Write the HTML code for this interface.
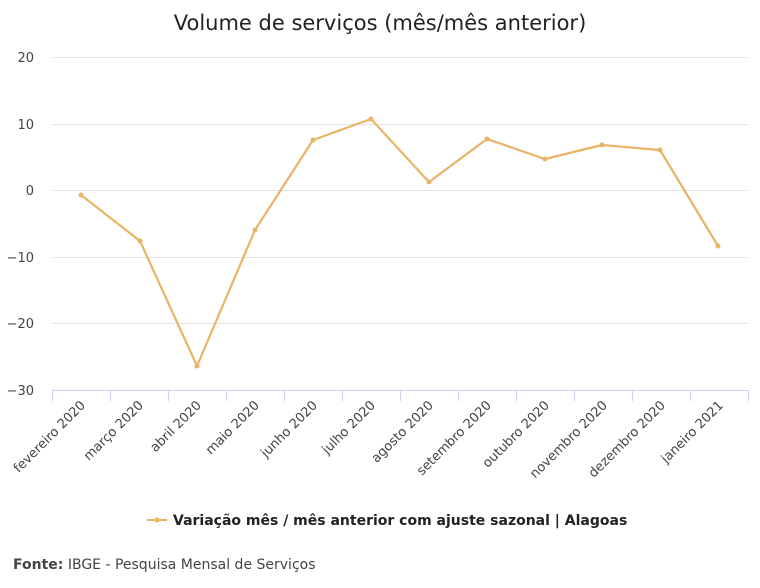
<!DOCTYPE html>
<html><head><meta charset="utf-8"><style>
body{margin:0;background:#fff}
svg{display:block;font-family:"DejaVu Sans","Liberation Sans",sans-serif}
</style></head><body>
<svg width="760" height="588" viewBox="0 0 760 588">
<text x="380" y="30" text-anchor="middle" font-size="21" fill="#222">Volume de serviços (mês/mês anterior)</text>
<g stroke="#e3e3e3" stroke-width="1">
<line x1="52" x2="748" y1="57.5" y2="57.5"/>
<line x1="52" x2="748" y1="124.5" y2="124.5"/>
<line x1="52" x2="748" y1="190.5" y2="190.5"/>
<line x1="52" x2="748" y1="257.5" y2="257.5"/>
<line x1="52" x2="748" y1="323.5" y2="323.5"/>
</g>
<line x1="52" x2="748" y1="390.5" y2="390.5" stroke="#ccd6eb"/>
<g stroke="#ccd6eb">
<line x1="52.5" x2="52.5" y1="390" y2="401"/><line x1="110.5" x2="110.5" y1="390" y2="401"/><line x1="168.5" x2="168.5" y1="390" y2="401"/><line x1="226.5" x2="226.5" y1="390" y2="401"/><line x1="284.5" x2="284.5" y1="390" y2="401"/><line x1="342.5" x2="342.5" y1="390" y2="401"/><line x1="400.5" x2="400.5" y1="390" y2="401"/><line x1="458.5" x2="458.5" y1="390" y2="401"/><line x1="516.5" x2="516.5" y1="390" y2="401"/><line x1="574.5" x2="574.5" y1="390" y2="401"/><line x1="632.5" x2="632.5" y1="390" y2="401"/><line x1="690.5" x2="690.5" y1="390" y2="401"/><line x1="748.5" x2="748.5" y1="390" y2="401"/>
</g>
<g font-size="13" fill="#444" text-anchor="end">
<text x="34" y="62">20</text><text x="34" y="129">10</text><text x="34" y="195">0</text><text x="34" y="262">−10</text><text x="34" y="328">−20</text><text x="34" y="395">−30</text>
</g>
<g font-size="13" fill="#444" text-anchor="end">
<text transform="translate(86,406) rotate(-45)">fevereiro 2020</text>
<text transform="translate(144,406) rotate(-45)">março 2020</text>
<text transform="translate(202,406) rotate(-45)">abril 2020</text>
<text transform="translate(260,406) rotate(-45)">maio 2020</text>
<text transform="translate(318,406) rotate(-45)">junho 2020</text>
<text transform="translate(376,406) rotate(-45)">julho 2020</text>
<text transform="translate(434,406) rotate(-45)">agosto 2020</text>
<text transform="translate(492,406) rotate(-45)">setembro 2020</text>
<text transform="translate(550,406) rotate(-45)">outubro 2020</text>
<text transform="translate(608,406) rotate(-45)">novembro 2020</text>
<text transform="translate(666,406) rotate(-45)">dezembro 2020</text>
<text transform="translate(724,406) rotate(-45)">janeiro 2021</text>
</g>
<polyline fill="none" stroke="#e8b465" stroke-width="2.2" stroke-linejoin="round" points="81,195 140,241 197,366 255,230 313,140 371,119 429,182 487,139 545,159 602,145 660,150 718,246"/>
<g fill="#e8b465">
<circle cx="81" cy="195" r="2.5"/><circle cx="140" cy="241" r="2.5"/><circle cx="197" cy="366" r="2.5"/><circle cx="255" cy="230" r="2.5"/><circle cx="313" cy="140" r="2.5"/><circle cx="371" cy="119" r="2.5"/><circle cx="429" cy="182" r="2.5"/><circle cx="487" cy="139" r="2.5"/><circle cx="545" cy="159" r="2.5"/><circle cx="602" cy="145" r="2.5"/><circle cx="660" cy="150" r="2.5"/><circle cx="718" cy="246" r="2.5"/>
</g>
<line x1="147" x2="167" y1="520" y2="520" stroke="#e8b465" stroke-width="2"/>
<circle cx="157" cy="520" r="2.5" fill="#e8b465"/>
<text x="173" y="525" font-size="14" font-weight="bold" fill="#222">Variação mês / mês anterior com ajuste sazonal | Alagoas</text>
<text x="13" y="569" font-size="14" fill="#444"><tspan font-weight="bold">Fonte:</tspan> IBGE - Pesquisa Mensal de Serviços</text>
</svg>
</body></html>
